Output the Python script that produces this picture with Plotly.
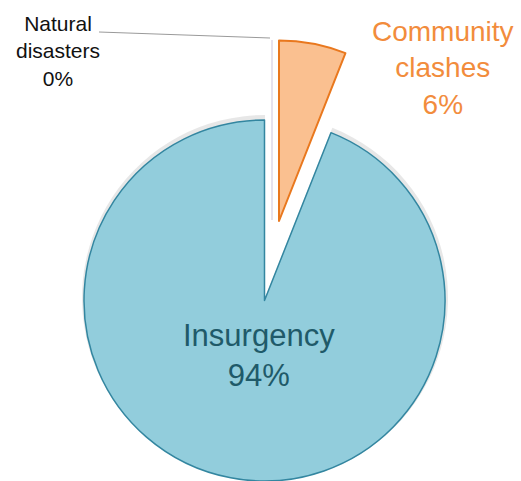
import plotly.graph_objects as go

# ---- data ----
labels = ["Natural disasters", "Community clashes", "Insurgency"]
values = [0, 6, 94]
pct_text = ["0%", "6%", "94%"]
label_lines = [["Natural", "disasters"], ["Community", "clashes"], ["Insurgency"]]

W, H = 521, 481

fill_colors = ["#E4E0EC", "#FAC090", "#92CDDC"]
line_colors = ["#D9D4E6", "#E9781E", "#3386A0"]
text_colors = ["#111111", "#F28C3C", "#1F5A69"]

def px_domain(cx, cy, r):
    x0 = (cx - r) / W
    x1 = (cx + r) / W
    y0 = max(0.0, 1 - (cy + r) / H)
    y1 = y0 + 2 * r / H
    return dict(x=[x0, x1], y=[y0, y1])

R = 180.5
fig = go.Figure()

# soft shadow
fig.add_trace(go.Pie(
    labels=labels, values=values, sort=False, direction="clockwise", rotation=0,
    domain=px_domain(265, 302, R + 2.5),
    marker=dict(colors=["rgba(0,0,0,0)", "rgba(0,0,0,0)", "rgba(120,120,120,0.18)"],
                line=dict(width=0)),
    textinfo="none", hoverinfo="skip", showlegend=False,
))

# main pie: insurgency (+ zero slice)
fig.add_trace(go.Pie(
    labels=labels, values=values, sort=False, direction="clockwise", rotation=0,
    domain=px_domain(264.5, 300.5, R),
    marker=dict(colors=[fill_colors[0], "rgba(0,0,0,0)", fill_colors[2]],
                line=dict(color=[line_colors[0], "rgba(0,0,0,0)", line_colors[2]],
                          width=[1, 0, 1.5])),
    textinfo="none", hoverinfo="label+percent", showlegend=False,
))

# exploded slice: community clashes
fig.add_trace(go.Pie(
    labels=labels, values=values, sort=False, direction="clockwise", rotation=0,
    domain=px_domain(279, 221, R),
    marker=dict(colors=["rgba(0,0,0,0)", fill_colors[1], "rgba(0,0,0,0)"],
                line=dict(color=["rgba(0,0,0,0)", line_colors[1], "rgba(0,0,0,0)"],
                          width=[0, 2, 0])),
    textinfo="none", hoverinfo="label+percent", showlegend=False,
))

# labels
label_pos = [(58, 51, 21), (443, 68, 28), (259, 355, 31)]
for i in range(len(labels)):
    x, y, s = label_pos[i]
    txt = "<br>".join(label_lines[i] + [pct_text[i]])
    fig.add_annotation(
        x=x / W, y=1 - y / H, xref="paper", yref="paper",
        text=txt, showarrow=False, xanchor="center", yanchor="middle",
        font=dict(family="Liberation Sans, Arial, sans-serif", size=s, color=text_colors[i]),
        align="center",
    )

# leader line for zero slice
fig.add_shape(type="line", xref="paper", yref="paper",
              x0=99 / W, y0=1 - 32 / H, x1=270 / W, y1=1 - 38 / H,
              line=dict(color="#9A9A9A", width=1))
fig.add_shape(type="line", xref="paper", yref="paper",
              x0=272 / W, y0=1 - 40 / H, x1=272 / W, y1=1 - 220 / H,
              line=dict(color="#E6E2EE", width=2))

fig.update_layout(
    width=W, height=H,
    margin=dict(l=0, r=0, t=0, b=0),
    paper_bgcolor="white", plot_bgcolor="white",
    showlegend=False,
)

fig.write_html("out.html", config={"displayModeBar": False},
               post_script="document.body.style.margin='0px';document.body.style.overflow='hidden';")
